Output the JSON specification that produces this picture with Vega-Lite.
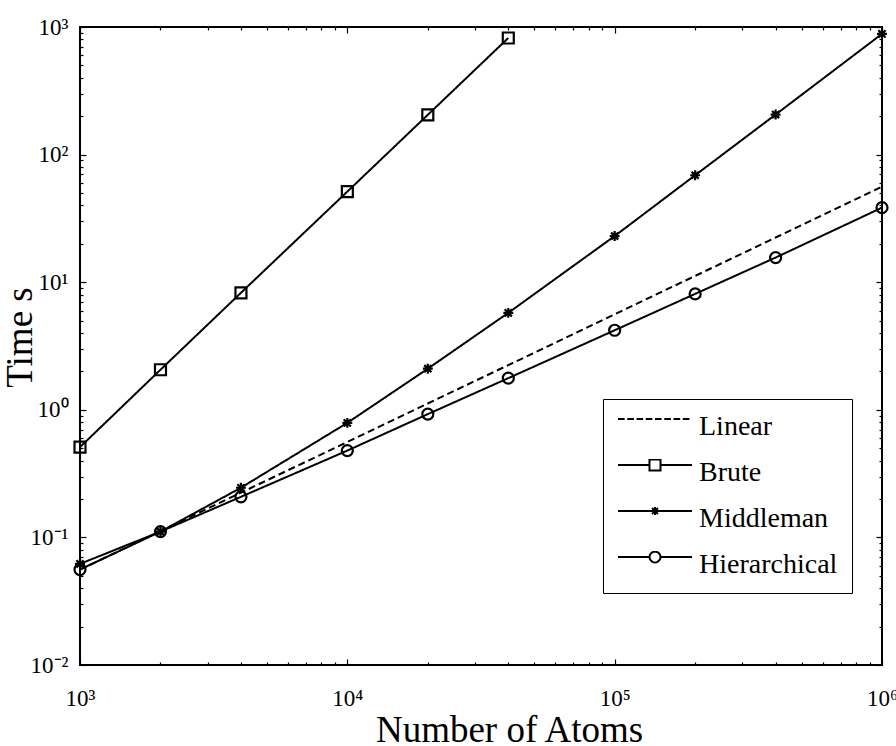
{
  "$schema": "https://vega.github.io/schema/vega-lite/v6.json",
  "width": 802,
  "height": 638,
  "autosize": "none",
  "padding": {"left": 80, "top": 27, "right": 14, "bottom": 81},
  "config": {
    "font": "Liberation Serif",
    "view": {"stroke": "black", "strokeWidth": 2},
    "axis": {"domain": false, "grid": false, "tickColor": "black", "tickWidth": 1.2, "labelColor": "black", "titleColor": "black", "labelFont": "Liberation Serif", "titleFont": "Liberation Serif", "titleFontWeight": "normal"}
  },
  "data": {
    "values": [
      {"series": "Linear", "atoms": 1000, "time": 0.056},
      {"series": "Linear", "atoms": 2000, "time": 0.112},
      {"series": "Linear", "atoms": 4000, "time": 0.224},
      {"series": "Linear", "atoms": 10000, "time": 0.56},
      {"series": "Linear", "atoms": 20000, "time": 1.12},
      {"series": "Linear", "atoms": 40000, "time": 2.24},
      {"series": "Linear", "atoms": 100000, "time": 5.6},
      {"series": "Linear", "atoms": 200000, "time": 11.2},
      {"series": "Linear", "atoms": 400000, "time": 22.4},
      {"series": "Linear", "atoms": 1000000, "time": 56},
      {"series": "Brute", "atoms": 1000, "time": 0.51},
      {"series": "Brute", "atoms": 2000, "time": 2.06},
      {"series": "Brute", "atoms": 4000, "time": 8.26},
      {"series": "Brute", "atoms": 10000, "time": 51.3},
      {"series": "Brute", "atoms": 20000, "time": 205},
      {"series": "Brute", "atoms": 40000, "time": 820},
      {"series": "Middleman", "atoms": 1000, "time": 0.062},
      {"series": "Middleman", "atoms": 2000, "time": 0.111},
      {"series": "Middleman", "atoms": 4000, "time": 0.245},
      {"series": "Middleman", "atoms": 10000, "time": 0.79},
      {"series": "Middleman", "atoms": 20000, "time": 2.1},
      {"series": "Middleman", "atoms": 40000, "time": 5.75},
      {"series": "Middleman", "atoms": 100000, "time": 23.0},
      {"series": "Middleman", "atoms": 200000, "time": 68.9},
      {"series": "Middleman", "atoms": 400000, "time": 206},
      {"series": "Middleman", "atoms": 1000000, "time": 883},
      {"series": "Hierarchical", "atoms": 1000, "time": 0.056},
      {"series": "Hierarchical", "atoms": 2000, "time": 0.111},
      {"series": "Hierarchical", "atoms": 4000, "time": 0.208},
      {"series": "Hierarchical", "atoms": 10000, "time": 0.479},
      {"series": "Hierarchical", "atoms": 20000, "time": 0.925},
      {"series": "Hierarchical", "atoms": 40000, "time": 1.77},
      {"series": "Hierarchical", "atoms": 100000, "time": 4.2},
      {"series": "Hierarchical", "atoms": 200000, "time": 8.1},
      {"series": "Hierarchical", "atoms": 400000, "time": 15.6},
      {"series": "Hierarchical", "atoms": 1000000, "time": 38.4}
    ]
  },
  "resolve": {
    "axis": {"x": "independent", "y": "independent"},
    "scale": {"shape": "independent"},
    "legend": {"shape": "independent"}
  },
  "layer": [
    {
      "mark": {"type": "line", "color": "black", "strokeWidth": 2},
      "encoding": {
        "x": {
          "field": "atoms", "type": "quantitative",
          "scale": {"type": "log", "domain": [1000, 1000000], "nice": false},
          "axis": {
            "orient": "bottom", "ticks": false,
            "title": "Number of Atoms",
            "titleFontSize": 37,
            "titleX": 429, "titleY": 76, "titleAlign": "center", "titleBaseline": "alphabetic", "titleAnchor": null,
            "values": [1000, 10000, 100000, 1000000],
            "labelExpr": "'10' + ['³','⁴','⁵','⁶'][round(log(datum.value)/LN10) - 3]",
            "labelFontSize": 23, "labelOverlap": false, "labelFlush": false, "labelBaseline": "top", "labelPadding": 22
          }
        },
        "y": {
          "field": "time", "type": "quantitative",
          "scale": {"type": "log", "domain": [0.01, 1000], "nice": false},
          "axis": {
            "orient": "left", "ticks": false,
            "title": "Time s",
            "titleFontSize": 37,
            "titleX": -60, "titleY": 310, "titleAngle": -90, "titleAlign": "center", "titleBaseline": "middle", "titleAnchor": null,
            "values": [0.01, 0.1, 1, 10, 100, 1000],
            "labelExpr": "'10' + ['⁻²','⁻¹','⁰','¹','²','³'][round(log(datum.value)/LN10) + 2]",
            "labelFontSize": 23, "labelOverlap": false, "labelFlush": false, "labelPadding": 12
          }
        },
        "strokeDash": {
          "field": "series", "type": "nominal",
          "scale": {"domain": ["Linear", "Brute", "Middleman", "Hierarchical"], "range": [[7, 4], [1, 0], [1, 0], [1, 0]]},
          "legend": null
        }
      }
    },
    {
      "transform": [{"filter": "datum.series !== 'Linear'"}],
      "mark": {"type": "point", "filled": false, "stroke": "black", "strokeWidth": 2.2, "size": 121, "opacity": 1},
      "encoding": {
        "x": {
          "field": "atoms", "type": "quantitative",
          "axis": {"orient": "bottom", "title": null, "labels": false, "offset": -6, "tickSize": 6, "values": [1000, 10000, 100000, 1000000]}
        },
        "y": {
          "field": "time", "type": "quantitative",
          "axis": {"orient": "left", "title": null, "labels": false, "offset": -6, "tickSize": 6, "values": [0.01, 0.1, 1, 10, 100, 1000]}
        },
        "shape": {
          "field": "series", "type": "nominal",
          "scale": {"domain": ["Brute", "Middleman", "Hierarchical"], "range": ["square", "M-0.9,0L0.9,0M0,-0.9L0,0.9M-0.65,-0.65L0.65,0.65M-0.65,0.65L0.65,-0.65M-0.3,-0.3H0.3V0.3H-0.3Z", "circle"]},
          "legend": null
        }
      }
    },
    {
      "mark": {"type": "point", "opacity": 0},
      "encoding": {
        "x": {
          "field": "atoms", "type": "quantitative",
          "axis": {"orient": "bottom", "title": null, "labels": false, "offset": -3, "tickSize": 3,
            "values": [2000,3000,4000,5000,6000,7000,8000,9000,20000,30000,40000,50000,60000,70000,80000,90000,200000,300000,400000,500000,600000,700000,800000,900000]}
        },
        "y": {
          "field": "time", "type": "quantitative",
          "axis": {"orient": "left", "title": null, "labels": false, "offset": -3, "tickSize": 3,
            "values": [0.02,0.03,0.04,0.05,0.06,0.07,0.08,0.09,0.2,0.3,0.4,0.5,0.6,0.7,0.8,0.9,2,3,4,5,6,7,8,9,20,30,40,50,60,70,80,90,200,300,400,500,600,700,800,900]}
        }
      }
    },
    {
      "mark": {"type": "point", "opacity": 0},
      "encoding": {
        "x": {
          "field": "atoms", "type": "quantitative",
          "axis": {"orient": "top", "title": null, "labels": false, "offset": -6, "tickSize": 6, "values": [1000, 10000, 100000, 1000000]}
        },
        "y": {
          "field": "time", "type": "quantitative",
          "axis": {"orient": "right", "title": null, "labels": false, "offset": -6, "tickSize": 6, "values": [0.01, 0.1, 1, 10, 100, 1000]}
        }
      }
    },
    {
      "mark": {"type": "point", "filled": false, "stroke": "black", "strokeWidth": 2, "size": 5476, "opacity": 0},
      "encoding": {
        "x": {
          "field": "atoms", "type": "quantitative",
          "axis": {"orient": "top", "title": null, "labels": false, "offset": -3, "tickSize": 3,
            "values": [2000,3000,4000,5000,6000,7000,8000,9000,20000,30000,40000,50000,60000,70000,80000,90000,200000,300000,400000,500000,600000,700000,800000,900000]}
        },
        "y": {
          "field": "time", "type": "quantitative",
          "axis": {"orient": "right", "title": null, "labels": false, "offset": -3, "tickSize": 3,
            "values": [0.02,0.03,0.04,0.05,0.06,0.07,0.08,0.09,0.2,0.3,0.4,0.5,0.6,0.7,0.8,0.9,2,3,4,5,6,7,8,9,20,30,40,50,60,70,80,90,200,300,400,500,600,700,800,900]}
        },
        "shape": {
          "field": "series", "type": "nominal",
          "scale": {
            "domain": ["Linear", "Brute", "Middleman", "Hierarchical"],
            "range": [
              "M-1,-0.216H-0.82M-0.75,-0.216H-0.57M-0.5,-0.216H-0.32M-0.25,-0.216H-0.07M0,-0.216H0.18M0.25,-0.216H0.43M0.5,-0.216H0.68M0.75,-0.216H0.93",
              "M-1,-0.216H-0.149M0.149,-0.216H1M-0.149,-0.365H0.149V-0.067H-0.149Z",
              "M-1,-0.216H1M0,-0.326V-0.106M-0.08,-0.296L0.08,-0.136M-0.08,-0.136L0.08,-0.296M-0.03,-0.246H0.03V-0.186H-0.03Z",
              "M-1,-0.216H-0.149M0.149,-0.216H1M0.149,-0.216L0.138,-0.159L0.105,-0.111L0.057,-0.078L0,-0.067L-0.057,-0.078L-0.105,-0.111L-0.138,-0.159L-0.149,-0.216L-0.138,-0.273L-0.105,-0.321L-0.057,-0.354L0,-0.365L0.057,-0.354L0.105,-0.321L0.138,-0.273Z"
            ]
          },
          "legend": {
            "orient": "none", "legendX": 523, "legendY": 372,
            "title": null,
            "symbolSize": 5476, "symbolStrokeWidth": 2, "symbolStrokeColor": "black", "symbolFillColor": "transparent", "symbolOpacity": 1,
            "labelFont": "Liberation Serif", "labelFontSize": 28, "labelColor": "black", "labelOffset": 6, "labelBaseline": "middle", "labelLimit": 400,
            "clipHeight": 28,
            "padding": 14, "strokeColor": "black", "fillColor": "white", "rowPadding": 18
          }
        }
      }
    }
  ]
}
